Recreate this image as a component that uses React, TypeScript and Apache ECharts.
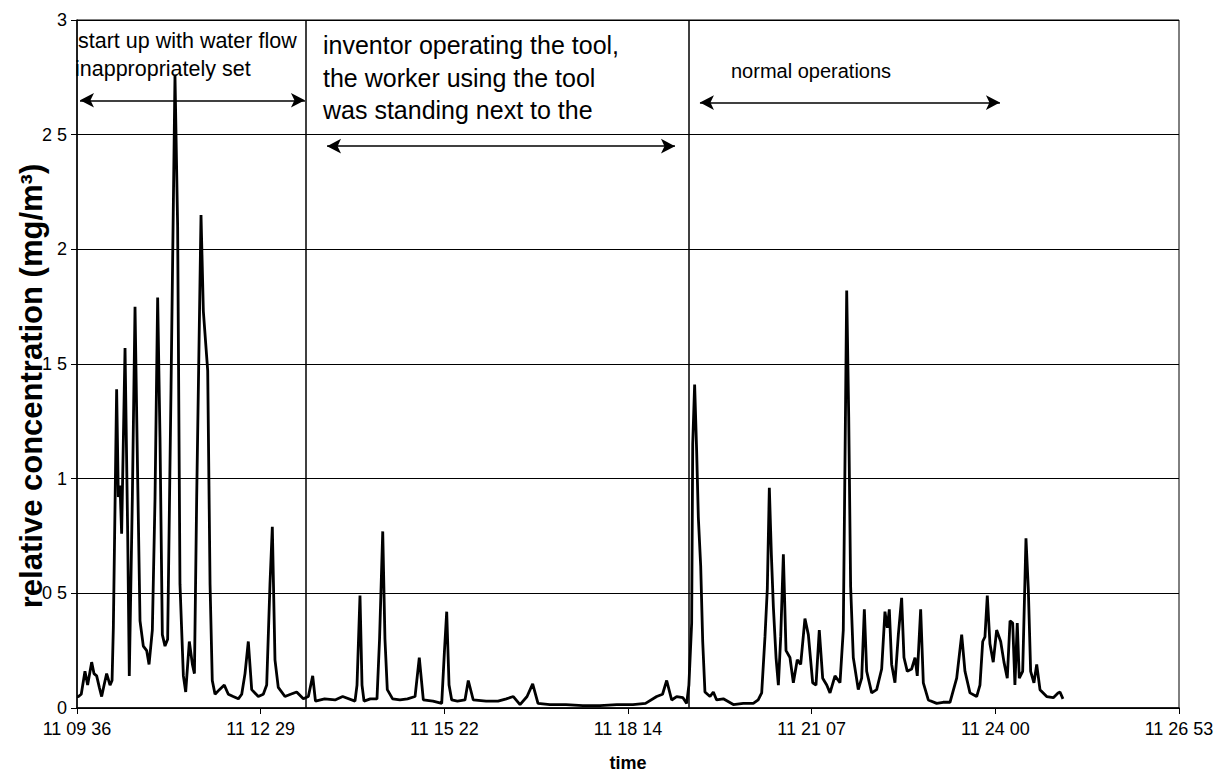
import React, { useEffect, useRef } from "react";
import * as echarts from "echarts";

const FONT = "'Liberation Sans', Arial, sans-serif";

// x tick labels (time axis, 6 equal steps of 172.83 min starting 09:36)
const xTickLabels = ["11 09 36", "11 12 29", "11 15 22", "11 18 14", "11 21 07", "11 24 00", "11 26 53"];
const yTickLabels = ["0", "0 5", "1", "1 5", "2", "2 5", "3"];

// time in minutes after 09:36
const timeMin = [
  0, 1.2, 4, 7.5, 10, 13.8, 16, 18.5, 21, 23.2, 25.5, 27.9, 31.1, 33, 34.2, 37.3, 38.9, 40.5, 42.0, 45.2,
  47.7, 49.2, 52.1, 54.6, 57.1, 59.3, 62.4, 65.6, 67.8, 70.9, 73.4, 75.9, 78.1, 80.3, 82.8, 85.3, 88.5, 92.2,
  94.7, 96.9, 100.1, 102.3, 105.7, 108.6, 110.5, 112.6, 116.7, 118.9, 123.0, 125.2, 127.3, 129.9, 134, 138.6,
  142.4, 147, 151.8, 155, 158.1, 161.2, 164.4, 170.6, 175.3, 178.5, 181.6, 183.8, 186.3, 189.4, 195.7, 201,
  206.7, 213.0,
  217.7, 221.8, 224.4, 233, 242.8, 250, 261.6, 263.5, 266.3, 268.2, 270.1, 276, 282.3, 284.7, 287.7, 289.8,
  292.0, 297, 303.9, 311, 318.1, 322.1, 325.9, 335, 343.2, 345.8, 347.9, 350.1, 352.6, 358, 365.1, 368.2,
  372.9, 385, 396.2, 404, 410.6, 416.9, 423.5, 428.8, 433.8, 445, 460.1, 476, 492.1, 508, 523.2, 535, 545.5,
  551, 554.9, 559.6, 564.3, 570.2, 573.7, 575.8,
  578.4, 579.4, 581.2, 583.1, 584.7, 586.9, 588.8, 590.9, 595.7, 598.8, 601.9, 608.2, 617.6, 627, 636.4, 641,
  644.3, 647.4, 649.6, 651.5, 653.4, 655.3, 657.8, 660.0, 662.2, 664.7, 667.2, 670.9, 674.1, 677.8, 681.0,
  685.0, 688.2, 692.3, 695.4, 698.5, 701.7, 705.5, 708.6, 713.3, 718.0, 721.1, 724.3, 726.2, 728.0, 730.5,
  735.2, 738.4, 740.9, 743.1, 747.8, 752.5, 757.2, 760.3, 762.5, 764.4, 766.6, 769.7, 772.9, 776.0, 778.2,
  781.3, 785.4, 788.6, 790.7, 793.9, 796.4, 801.1, 809.0, 815, 821.5, 827.8, 832.5, 835.6, 840.3, 846.6,
  849.7, 852.3, 854.4, 856.6, 859.1, 862.2, 865.4, 869.2, 872.3, 875.4, 878.0, 880.5, 882.6, 884.8, 886.7,
  889.9, 893.0, 895.2, 897.4, 900.5, 903.1, 906.2, 912.5, 918.7, 923.4, 925.0, 927.8,
];

// relative concentration (mg/m3)
const concentration = [
  0.05, 0.05, 0.06, 0.16, 0.1, 0.2, 0.15, 0.14, 0.09, 0.05, 0.1, 0.15, 0.1, 0.12, 0.35, 1.39, 0.92, 0.97, 0.76, 1.57,
  0.76, 0.14, 0.92, 1.75, 1.0, 0.38, 0.27, 0.25, 0.19, 0.34, 0.91, 1.79, 1.18, 0.32, 0.27, 0.3, 1.4, 2.76,
  2.1, 0.54, 0.14, 0.07, 0.29, 0.19, 0.15, 0.91, 2.15, 1.73, 1.47, 0.54, 0.12, 0.06, 0.08, 0.1,
  0.06, 0.05, 0.04, 0.06, 0.15, 0.29, 0.08, 0.05, 0.06, 0.1, 0.54, 0.79, 0.21, 0.09, 0.05, 0.06,
  0.07, 0.04,
  0.05, 0.14, 0.03, 0.04, 0.035, 0.05, 0.03, 0.1, 0.49, 0.1, 0.03, 0.04, 0.04, 0.3, 0.77, 0.3,
  0.08, 0.04, 0.035, 0.04, 0.05, 0.22, 0.035, 0.03, 0.02, 0.25, 0.42, 0.1, 0.035, 0.03, 0.035, 0.12,
  0.035, 0.03, 0.03, 0.04, 0.05, 0.015, 0.05, 0.105, 0.02, 0.015, 0.015, 0.01, 0.01, 0.015, 0.015, 0.02, 0.05,
  0.06, 0.12, 0.035, 0.05, 0.045, 0.02, 0.1,
  0.37, 1.15, 1.41, 1.12, 0.83, 0.62, 0.29, 0.07, 0.05, 0.07, 0.035, 0.04, 0.015, 0.02, 0.02, 0.035,
  0.066, 0.31, 0.52, 0.96, 0.67, 0.44, 0.22, 0.1, 0.31, 0.67, 0.25, 0.22, 0.11, 0.21, 0.19,
  0.39, 0.32, 0.11, 0.1, 0.34, 0.13, 0.1, 0.066, 0.14, 0.11, 0.34, 1.82, 1.27, 0.53, 0.22,
  0.08, 0.13, 0.43, 0.16, 0.066, 0.08, 0.17, 0.42, 0.35, 0.43, 0.19, 0.11, 0.32, 0.48, 0.22,
  0.16, 0.17, 0.22, 0.14, 0.43, 0.11, 0.035, 0.02, 0.025, 0.025, 0.13, 0.32, 0.16, 0.066, 0.05,
  0.1, 0.29, 0.31, 0.49, 0.28, 0.2, 0.34, 0.29, 0.2, 0.13, 0.38, 0.37, 0.1, 0.37, 0.13,
  0.16, 0.74, 0.52, 0.16, 0.11, 0.19, 0.08, 0.05, 0.045, 0.066, 0.07, 0.04,
];

// phase separators (minutes)
const separatorsMin = [215.5, 576];
// annotation arrows: [startMin, endMin, level]
const arrowsMin = [
  [2.8, 214.5, 2.65],
  [235.3, 562.7, 2.45],
  [586.2, 868.5, 2.64],
];

const X_MAX_SEC = 62220;
const X_STEP_SEC = 10370;

export default function App() {
  const ref = useRef<HTMLDivElement>(null);
  useEffect(() => {
    if (!ref.current) return;
    const chart = echarts.init(ref.current, undefined, { renderer: "svg" });
    const data = timeMin.map((t, i) => [t * 60, concentration[i]]);
    const separatorLines: any[] = separatorsMin.map((m) => ({ xAxis: m * 60 }));
    const arrowLines: any[] = arrowsMin.map(([a, b, lv]) => [
      { coord: [a * 60, lv] },
      { coord: [b * 60, lv] },
    ]);
    chart.setOption({
      animation: false,
      backgroundColor: "#fff",
      grid: { left: 77, right: 46, top: 20, bottom: 74, show: true, borderColor: "#000", borderWidth: 1 },
      xAxis: {
        type: "value",
        min: 0,
        max: X_MAX_SEC,
        interval: X_STEP_SEC,
        name: "time",
        nameLocation: "middle",
        nameGap: 46,
        nameTextStyle: { fontFamily: FONT, fontSize: 18, fontWeight: "bold", color: "#000" },
        axisLine: { lineStyle: { color: "#000", width: 1.5 } },
        axisTick: { show: true, length: 6, lineStyle: { color: "#000" } },
        axisLabel: {
          fontFamily: FONT,
          fontSize: 18,
          color: "#000",
          margin: 12,
          formatter: (v: number) => xTickLabels[Math.round(v / X_STEP_SEC)] ?? "",
        },
        splitLine: { show: false },
      },
      yAxis: {
        type: "value",
        min: 0,
        max: 3,
        interval: 0.5,
        axisLine: { show: true, lineStyle: { color: "#000", width: 1.5 } },
        axisTick: { show: true, length: 6, lineStyle: { color: "#000" } },
        axisLabel: {
          fontFamily: FONT,
          fontSize: 18,
          color: "#000",
          margin: 10,
          formatter: (v: number) => yTickLabels[Math.round(v / 0.5)] ?? "",
        },
        splitLine: { show: true, lineStyle: { color: "#000", width: 1 } },
      },
      series: [
        {
          type: "line",
          data,
          showSymbol: false,
          symbol: "none",
          lineStyle: { color: "#000", width: 2.8 },
          clip: true,
          markLine: {
            silent: true,
            animation: false,
            symbol: ["none", "none"],
            label: { show: false },
            lineStyle: { color: "#000", width: 1.5, type: "solid" },
            data: separatorLines,
          },
        },
        {
          type: "line",
          data: [],
          markLine: {
            silent: true,
            animation: false,
            symbol: ["arrow", "arrow"],
            symbolSize: [11, 14],
            label: { show: false },
            lineStyle: { color: "#000", width: 1.6, type: "solid" },
            data: arrowLines,
          },
        },
      ],
      graphic: [
        {
          type: "text",
          x: 31,
          y: 386,
          rotation: Math.PI / 2,
          style: {
            text: "relative concentration (mg/m³)",
            fontFamily: FONT,
            fontSize: 31,
            fontWeight: "bold",
            fill: "#000",
            align: "center",
            verticalAlign: "middle",
          },
        },
        { type: "text", left: 78, top: 30, style: { text: "start up with water flow", fontFamily: FONT, fontSize: 21.5, fill: "#000" } },
        { type: "text", left: 75, top: 58, style: { text: "inappropriately set", fontFamily: FONT, fontSize: 21.5, fill: "#000" } },
        { type: "text", left: 323, top: 32, style: { text: "inventor operating the tool,", fontFamily: FONT, fontSize: 25, fill: "#000" } },
        { type: "text", left: 323, top: 65, style: { text: "the worker using the tool", fontFamily: FONT, fontSize: 25, fill: "#000" } },
        { type: "text", left: 323, top: 97, style: { text: "was standing next to the", fontFamily: FONT, fontSize: 25, fill: "#000" } },
        { type: "text", left: 731, top: 61, style: { text: "normal operations", fontFamily: FONT, fontSize: 20, fill: "#000" } },
      ],
    });
    return () => chart.dispose();
  }, []);
  return <div ref={ref} style={{ position: "absolute", left: 0, top: 0, width: 1225, height: 782 }} />;
}
